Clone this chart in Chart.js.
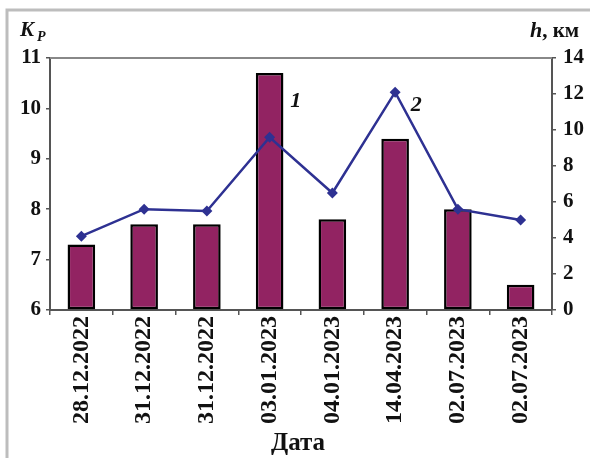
<!DOCTYPE html>
<html>
<head>
<meta charset="utf-8">
<script src="https://cdn.jsdelivr.net/npm/chart.js@4/dist/chart.umd.min.js"></script>
<style>
  body { margin: 0; background: #fff; }
  #wrap { width: 590px; height: 458px; }
</style>
</head>
<body>
<div id="wrap"><canvas id="chart" width="590" height="458"></canvas></div>
<script>
// Data
var dates = ['28.12.2022', '31.12.2022', '31.12.2022', '03.01.2023', '04.01.2023', '14.04.2023', '02.07.2023', '02.07.2023'];
var kpValues = [7.3, 7.7, 7.7, 10.7, 7.8, 9.4, 8.0, 6.5];
var heightKm = [4.1, 5.6, 5.5, 9.6, 6.5, 12.1, 5.6, 5.0];
var kpTicks = [6, 7, 8, 9, 10, 11];
var hTicks = [0, 2, 4, 6, 8, 10, 12, 14];

var serif = "'Liberation Serif', 'DejaVu Serif', serif";
var axisColor = '#555';

// frame, plot top border and the text marks
var decorations = {
    id: 'decorations',
    afterDraw: function(chart) {
        var ctx = chart.ctx;
        var area = chart.chartArea;
        var x = chart.scales.x;
        var yKp = chart.scales.yKp;
        var yH = chart.scales.yH;
        ctx.save();

        // outer frame (left + top only)
        ctx.strokeStyle = '#bdbdbd';
        ctx.lineWidth = 3;
        ctx.beginPath();
        ctx.moveTo(7, 458);
        ctx.lineTo(7, 10);
        ctx.lineTo(590, 10);
        ctx.stroke();

        // top edge of plot area
        ctx.strokeStyle = '#888';
        ctx.lineWidth = 2;
        ctx.beginPath();
        ctx.moveTo(area.left, area.top);
        ctx.lineTo(area.right, area.top);
        ctx.stroke();

        ctx.fillStyle = '#111';
        ctx.textBaseline = 'alphabetic';

        // left axis title K_P
        ctx.textAlign = 'left';
        ctx.font = 'italic bold 21px ' + serif;
        ctx.fillText('K', 20, 36);
        ctx.font = 'italic bold 14px ' + serif;
        ctx.fillText('P', 37, 41);

        // right axis title h, км
        ctx.font = 'italic bold 22px ' + serif;
        ctx.fillText('h', 530, 37);
        var hw = ctx.measureText('h').width;
        ctx.font = 'bold 21px ' + serif;
        ctx.fillText(', км', 530 + hw, 37);

        // x axis title
        ctx.textAlign = 'center';
        ctx.font = 'bold 25px ' + serif;
        ctx.fillText('Дата', 298, 450);

        // series markers 1 and 2
        ctx.font = 'italic bold 22px ' + serif;
        ctx.fillText('1', x.getPixelForValue(3) + 26, yKp.getPixelForValue(kpValues[3]) + 34);
        ctx.fillText('2', x.getPixelForValue(5) + 21, yH.getPixelForValue(heightKm[5]) + 19);

        ctx.restore();
    }
};

new Chart(document.getElementById('chart'), {
    data: {
        labels: dates,
        datasets: [
            {
                type: 'line',
                data: heightKm,
                yAxisID: 'yH',
                order: 0,
                borderColor: '#2E3192',
                backgroundColor: '#2E3192',
                borderWidth: 2.5,
                tension: 0,
                pointStyle: 'rectRot',
                pointRadius: 5.5,
                pointBorderWidth: 0
            },
            {
                type: 'bar',
                data: kpValues,
                yAxisID: 'yKp',
                order: 1,
                base: 6,
                backgroundColor: '#922362',
                borderColor: '#000',
                borderWidth: 2.5,
                borderSkipped: false,
                categoryPercentage: 1,
                barPercentage: 0.44
            }
        ]
    },
    options: {
        responsive: false,
        animation: false,
        layout: { padding: { top: 58, left: 0, right: 0, bottom: 0 } },
        plugins: {
            legend: { display: false },
            tooltip: { enabled: false }
        },
        scales: {
            x: {
                offset: true,
                afterFit: function(scale) { scale.height = 148; },
                grid: { offset: true, drawOnChartArea: false, tickLength: 5, color: axisColor, lineWidth: 1.5 },
                border: { color: axisColor, width: 2 },
                ticks: {
                    minRotation: 90,
                    maxRotation: 90,
                    padding: 1,
                    color: '#111',
                    font: { family: serif, size: 24, weight: 'bold' }
                }
            },
            yKp: {
                position: 'left',
                min: 6,
                max: 11,
                afterFit: function(scale) { scale.width = 50; },
                afterBuildTicks: function(scale) {
                    scale.ticks = kpTicks.map(function(v) { return { value: v }; });
                },
                grid: { drawOnChartArea: false, tickLength: 4, color: axisColor, lineWidth: 1.5 },
                border: { color: axisColor, width: 2 },
                ticks: {
                    padding: 5,
                    color: '#111',
                    font: { family: serif, size: 21, weight: 'bold' }
                }
            },
            yH: {
                position: 'right',
                min: 0,
                max: 14,
                afterFit: function(scale) { scale.width = 38; },
                afterBuildTicks: function(scale) {
                    scale.ticks = hTicks.map(function(v) { return { value: v }; });
                },
                grid: { drawOnChartArea: false, tickLength: 4, color: axisColor, lineWidth: 1.5 },
                border: { color: axisColor, width: 2 },
                ticks: {
                    padding: 7,
                    color: '#111',
                    font: { family: serif, size: 21, weight: 'bold' }
                }
            }
        }
    },
    plugins: [decorations]
});
</script>
</body>
</html>
